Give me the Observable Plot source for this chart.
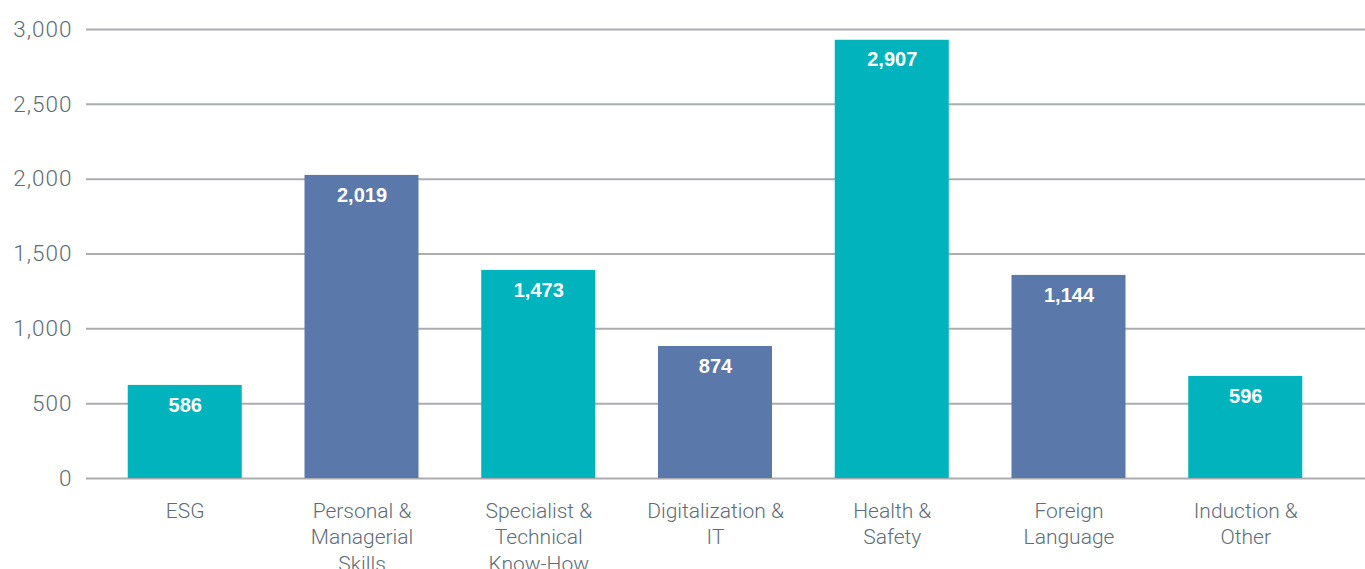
<!DOCTYPE html>
<html>
<head>
<meta charset="utf-8">
<script src="https://cdn.jsdelivr.net/npm/d3@7"></script>
<script src="https://cdn.jsdelivr.net/npm/@observablehq/plot@0.6"></script>
<style>
  html, body { margin: 0; padding: 0; background: #fff; }
  #chart svg { display: block; }
  #chart g[aria-label="y-axis tick label"] text { letter-spacing: 1px; }
</style>
</head>
<body>
<div id="chart"></div>
<script>
// Categories (x axis)
const categories = [
  "ESG",
  "Personal & Managerial Skills",
  "Specialist & Technical Know-How",
  "Digitalization & IT",
  "Health & Safety",
  "Foreign Language",
  "Induction & Other"
];
// Tick labels as printed (with line breaks)
const tickLabels = [
  "ESG",
  "Personal &\nManagerial\nSkills",
  "Specialist &\nTechnical\nKnow-How",
  "Digitalization &\nIT",
  "Health &\nSafety",
  "Foreign\nLanguage",
  "Induction &\nOther"
];
// Bar heights as drawn in the picture
const barHeights = [622, 2025, 1390, 882, 2928, 1357, 682];
// Value labels as printed on the bars
const valueLabels = [586, 2019, 1473, 874, 2907, 1144, 596];
// Y axis ticks
const yTicks = [0, 500, 1000, 1500, 2000, 2500, 3000];

const TEAL = "#00b3bc";
const BLUE = "#5b78aa";
const GRID = "#abacb0";
const TICKTEXT = "#5d6d77";

const fmt = d3.format(",");

const data = categories.map((c, i) => ({
  category: c,
  height: barHeights[i],
  label: valueLabels[i],
  idx: i
}));
const tickMap = new Map(categories.map((c, i) => [c, tickLabels[i]]));

const chart = Plot.plot({
  width: 1365,
  height: 569,
  marginLeft: 65,
  marginRight: 0,
  marginTop: 29,
  marginBottom: 91,
  style: { fontFamily: "Roboto, 'Liberation Sans', Arial, sans-serif", background: "#fff" },
  x: { domain: categories, padding: 0.355, round: false, label: null },
  y: { domain: [0, 3000], label: null },
  marks: [
    Plot.ruleY(yTicks, { stroke: GRID, strokeWidth: 2, insetLeft: 21 }),
    Plot.barY(data, {
      x: "category",
      y: "height",
      fill: d => (d.idx % 2 ? BLUE : TEAL)
    }),
    Plot.text(data, {
      x: "category",
      y: "height",
      text: d => fmt(d.label),
      fill: "#fff",
      fontWeight: "bold",
      fontSize: 20,
      fontFamily: "'Liberation Sans', Arial, sans-serif",
      lineAnchor: "top",
      dy: 12
    }),
    Plot.axisY({
      ticks: yTicks,
      tickFormat: d => fmt(d),
      tickSize: 0,
      tickPadding: 0,
      dx: 7,
      fontSize: 22.5,
      fontWeight: 300,
      fill: TICKTEXT,
      label: null
    }),
    Plot.axisX({
      tickFormat: d => tickMap.get(d),
      tickSize: 0,
      tickPadding: 21,
      fontSize: 21,
      fontWeight: 300,
      lineHeight: 1.25,
      fill: TICKTEXT,
      label: null
    })
  ]
});

document.getElementById("chart").appendChild(chart);
</script>
</body>
</html>
